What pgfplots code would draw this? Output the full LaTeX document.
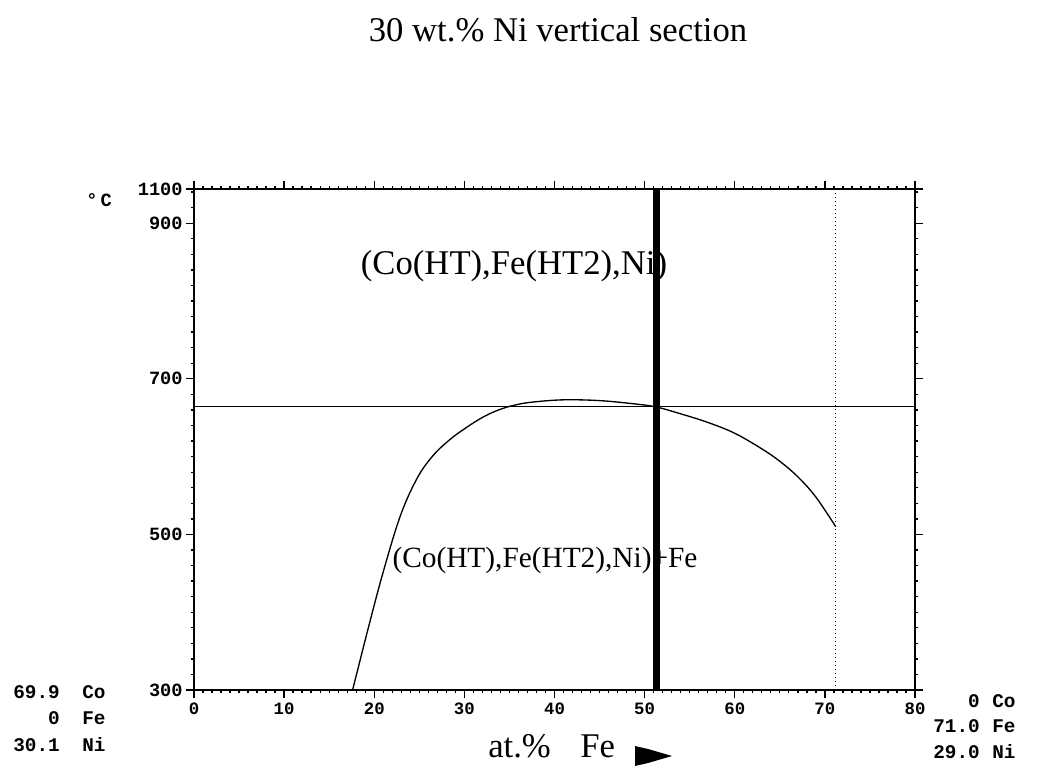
\documentclass[border=0pt]{standalone}
\usepackage{fontspec}
\setmainfont{Liberation Serif}
\newfontfamily\monob{Liberation Mono}
\usepackage{pgfplots}
\pgfplotsset{compat=1.18}
\begin{document}
\begin{tikzpicture}
\begin{axis}[
  at={(0,0)}, anchor=south west,
  scale only axis, width=540.75pt, height=375.75pt,
  xmin=0, xmax=80, ymin=300, ymax=944,
  xtick={0,10,...,80},
  ytick={300,500,700,900,944},
  yticklabels={300,500,700,900,1100},
  minor x tick num=9,
  minor ytick={320,340,...,940},
  tick align=outside,
  major tick length=6pt, minor tick length=2.5pt,
  tick style={black, line width=1pt},
  axis line style={line width=1.3pt},
  /pgf/number format/assume math mode=true,
  ticklabel style={font=\monob\bfseries\fontsize{14}{15}\selectfont},
  xticklabel style={font=\monob\bfseries\fontsize{13}{14}\selectfont},
  yticklabel style={xshift=1pt},
]
% horizontal line
\addplot[black, line width=1pt] coordinates {(0,664) (80,664)};
% phase boundary curve
\addplot[black, line width=1pt, smooth, tension=0.6] coordinates {
 (17.6,300) (19.3,378) (21.0,452) (22.9,524) (24.75,572) (26.5,601)
 (28.4,622) (30.3,638) (32.1,651) (33.8,660) (35.5,666) (37.5,670)
 (41,673) (45,672) (48.7,668) (51.2,664) (54,655) (57,644) (60,630)
 (63,610) (65,594) (67,574) (69,548) (71.2,510)};
% thick vertical line
\addplot[black, line width=5pt] coordinates {(51.3,300) (51.3,944)};
% dotted vertical line
\addplot[black, dotted, line width=1pt] coordinates {(71.2,300) (71.2,944)};
\end{axis}
\begin{scope}[x=0.75pt, y=-0.75pt, shift={(-145.5pt,517.5pt)}]
\path[use as bounding box] (0,0) rectangle (1037,775);
\node[font=\fontsize{26}{30}\selectfont] at (558,30) {30 wt.\% Ni vertical section};
\node[font=\fontsize{26}{30}\selectfont] at (514,266) {(Co(HT),Fe(HT2),Ni)};
\node[font=\fontsize{22}{26}\selectfont] at (545,560) {(Co(HT),Fe(HT2),Ni)+Fe};
\node[font=\fontsize{26}{30}\selectfont, anchor=base west, inner sep=0pt] at (488,757) {at.\%};
\node[font=\fontsize{26}{30}\selectfont, anchor=base west, inner sep=0pt] at (580,757) {Fe};
\fill[black] (635,746) -- (648,749) -- (672,756) -- (648,763) -- (635,766) -- cycle;
\node[font=\monob\bfseries\fontsize{14}{16}\selectfont, anchor=west, inner sep=0pt] at (86,200) {\textdegree\,C};
\begin{scope}[every node/.style={font=\monob\bfseries\fontsize{14.5}{16}\selectfont, inner sep=0pt}]
\node[anchor=base east] at (60,698) {69.9};
\node[anchor=base west] at (82,698) {Co};
\node[anchor=base east] at (60,724) {0};
\node[anchor=base west] at (82,724) {Fe};
\node[anchor=base east] at (60,751) {30.1};
\node[anchor=base west] at (82,751) {Ni};
\node[anchor=base east] at (980,707) {0};
\node[anchor=base west] at (992,707) {Co};
\node[anchor=base east] at (980,732) {71.0};
\node[anchor=base west] at (992,732) {Fe};
\node[anchor=base east] at (980,758) {29.0};
\node[anchor=base west] at (992,758) {Ni};
\end{scope}
\end{scope}
\end{tikzpicture}
\end{document}
